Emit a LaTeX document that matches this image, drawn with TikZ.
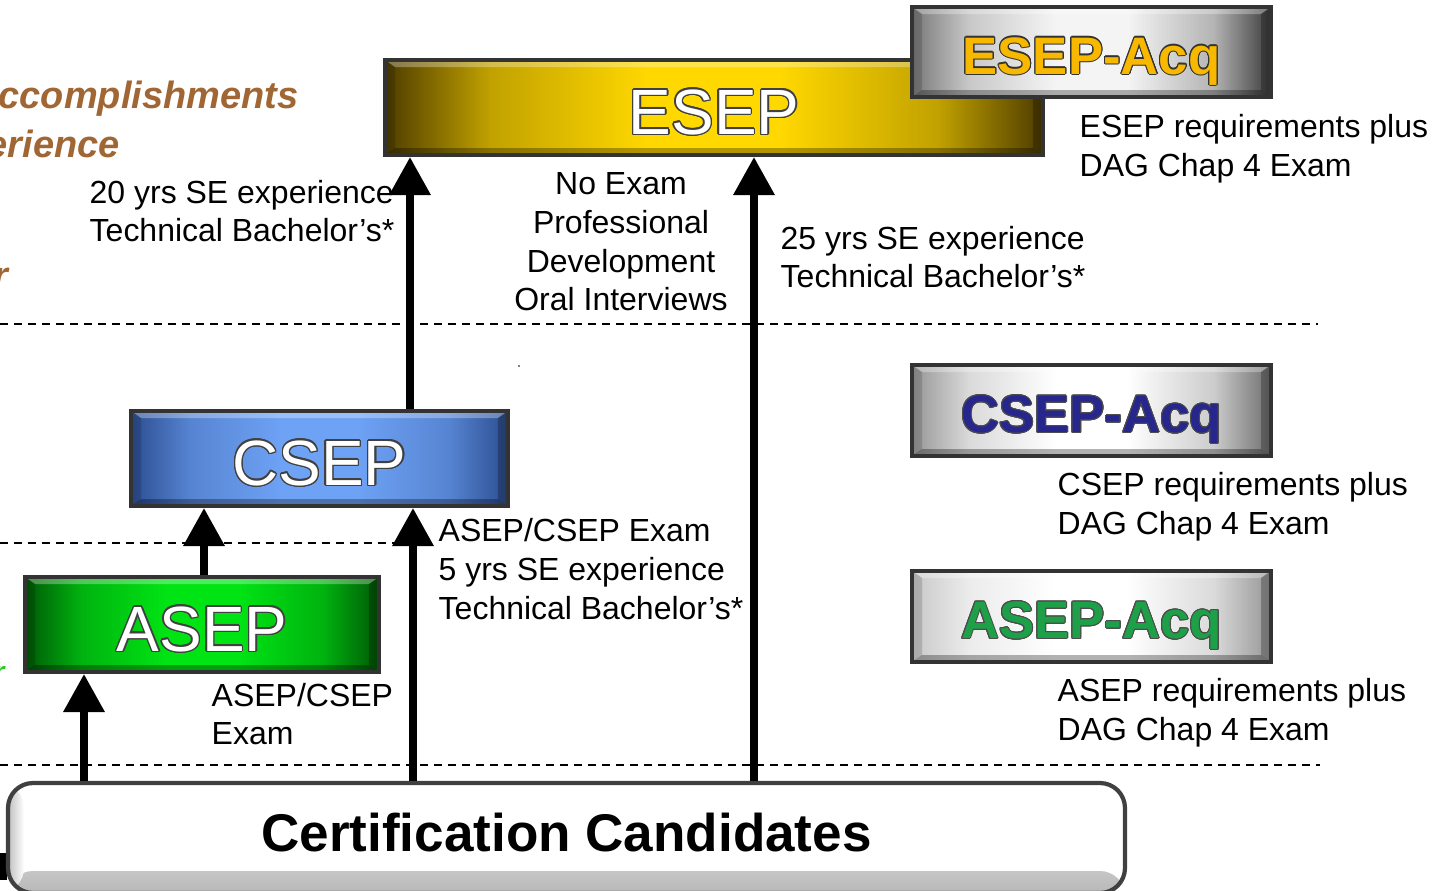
\documentclass[tikz,border=0pt]{standalone}
\usepackage{fontspec}
\setmainfont{Liberation Sans}
\usepackage[copies]{contour}
\usetikzlibrary{arrows.meta}
\contourlength{0.4pt}

\definecolor{goldD}{RGB}{78,60,0}
\definecolor{goldM}{RGB}{215,170,0}
\definecolor{goldL}{RGB}{255,216,0}
\definecolor{blueD}{RGB}{44,78,145}
\definecolor{blueM}{RGB}{80,125,205}
\definecolor{blueL}{RGB}{110,162,245}
\definecolor{grnD}{RGB}{0,88,6}
\definecolor{grnM}{RGB}{0,170,12}
\definecolor{grnL}{RGB}{0,228,20}
\definecolor{greyA}{RGB}{120,120,120}
\definecolor{greyB}{RGB}{60,60,60}
\definecolor{greyC}{RGB}{150,150,150}
\definecolor{greyE}{RGB}{200,200,200}
\definecolor{greyF}{RGB}{110,110,110}
\definecolor{greyL}{RGB}{244,244,244}
\definecolor{accbrown}{RGB}{160,102,52}
\definecolor{accgreen}{RGB}{40,200,40}
\definecolor{acqgold}{RGB}{248,184,0}
\definecolor{acqblue}{RGB}{38,38,140}
\definecolor{acqgreen}{RGB}{30,160,72}

% left edge -> centre -> right edge, with a flat bright middle
\pgfdeclarehorizontalshading[barA,barAm,barC,barBm,barB]{bevelbar}{100bp}{%
  color(0bp)=(barA); color(25bp)=(barA); color(33bp)=(barAm); color(45bp)=(barC);
  color(55bp)=(barC); color(67bp)=(barBm); color(75bp)=(barB); color(100bp)=(barB)}

\tikzset{
  bar/.style n args={3}{draw=black!80, line width=1.2pt, inner sep=0pt,
    /utils/exec={\colorlet{barA}{#1}\colorlet{barC}{#2}\colorlet{barB}{#3}%
      \colorlet{barAm}{barA!35!barC}\colorlet{barBm}{barB!35!barC}},
    shade, shading=bevelbar,
    path picture={ % bevelled edges
      \path (path picture bounding box.north west) coordinate (bnw)
            (path picture bounding box.north east) coordinate (bne)
            (path picture bounding box.south west) coordinate (bsw)
            (path picture bounding box.south east) coordinate (bse);
      \fill[white,opacity=.3] (bnw) -- (bne) -- ([shift={(-1mm,-.7mm)}]bne) -- ([shift={(1mm,-.7mm)}]bnw) -- cycle;
      \fill[black,opacity=.3] (bsw) -- (bse) -- ([shift={(-1mm,.7mm)}]bse) -- ([shift={(1mm,.7mm)}]bsw) -- cycle;
      \fill[black,opacity=.15] (bnw) -- ([shift={(1mm,-.7mm)}]bnw) -- ([shift={(1mm,.7mm)}]bsw) -- (bsw) -- cycle;
      \fill[black,opacity=.25] (bne) -- ([shift={(-1mm,-.7mm)}]bne) -- ([shift={(-1mm,.7mm)}]bse) -- (bse) -- cycle;
    }},
  level/.style={text=white, font=\fontsize{18.2}{20}\selectfont, text height=5.3mm, text depth=0pt},
  acq/.style={font=\fontsize{15}{17}\bfseries\selectfont, text height=4.4mm, text depth=0pt},
  note/.style={font=\fontsize{9.1}{11}\selectfont, align=left, anchor=west, inner sep=0pt},
  up/.style={line width=2pt, -{Triangle[width=4mm,length=3.8mm]}},
  sep/.style={dashed, dash pattern=on .8mm off .6mm, line width=.5pt},
  frag/.style={anchor=west, inner sep=0pt, text=accbrown, font=\fontsize{10.8}{12}\bfseries\itshape\selectfont},
}

\begin{document}
\begin{tikzpicture}[x=0.1mm,y=-0.1mm]
  \useasboundingbox (0,0) rectangle (1435,890);
  \clip (0,0) rectangle (1435,890);

  % level separators
  \foreach \y/\xend in {324/1318,543/400,765/1320}{
    \draw[sep] (0,\y) -- (\xend,\y);
  }

  % cut off titles on the left
  \node[frag] (ttl1) at (-2,99) {ccomplishments};
  \node[frag] (ttl2) at (-14,144) {erience};
  \node[frag] (ttl3) at (-7,278) {r};
  \node[frag, text=accgreen, font=\fontsize{8}{10}\bfseries\itshape\selectfont] (ttl4) at (-7,674) {r};
  \fill (0,853) rectangle (7,880);
  \fill (519,366) circle (0.9);

  % certification levels
  \node[bar={goldD}{goldL}{goldD}, minimum width=65.8mm, minimum height=9.5mm, level] (esep) at (714,107.5) {\contour{black!75}{ESEP}};
  \node[bar={greyA}{greyL}{greyB}, minimum width=35.9mm, minimum height=9mm, acq, text=acqgold] (esepacq) at (1091.5,52) {{\contourlength{0.3pt}\contour{black!80}{ESEP-Acq}}};
  \node[bar={blueD}{blueL}{blueD}, minimum width=37.7mm, minimum height=9.5mm, level] (csep) at (319.5,458.5) {\contour{black!75}{CSEP}};
  \node[bar={greyC}{white}{greyF}, minimum width=35.9mm, minimum height=9.1mm, acq, text=acqblue] (csepacq) at (1091.5,410.5) {{\contourlength{0.25pt}\contour{black!70}{CSEP-Acq}}};
  \node[bar={grnD}{grnL}{grnD}, minimum width=35.4mm, minimum height=9.5mm, level] (asep) at (202,624.5) {\contour{black!75}{ASEP}};
  \node[bar={greyE}{white}{greyC}, minimum width=35.9mm, minimum height=9.1mm, acq, text=acqgreen] (asepacq) at (1091.5,616.5) {{\contourlength{0.25pt}\contour{black!70}{ASEP-Acq}}};

  \node[draw=black!75, line width=1.2pt, rounded corners=2.5mm, fill=white,
        minimum width=111.7mm, minimum height=11mm, text depth=1.2mm,
        font=\fontsize{15.1}{17}\bfseries\selectfont,
        path picture={
          \shade[top color=white, bottom color=black!28] ([yshift=2.2mm]path picture bounding box.south west) rectangle (path picture bounding box.south east);
          \shade[left color=black!25, right color=white] (path picture bounding box.south west) rectangle ([xshift=1.6mm]path picture bounding box.north west);
        }] (cand) at (566.5,838) {Certification Candidates};

  % paths between levels
  \foreach \from/\to/\x in {cand/asep/84, asep/csep/204, cand/csep/413, csep/esep/410, cand/esep/754}{
    \coordinate (ax) at (\x,0);
    \draw[up] (ax |- \from.north) -- (ax |- \to.south);
  }

  % requirements
  \node[note] (req20) at (89,211) {20 yrs SE experience\\Technical Bachelor’s*};
  \node[note, align=center, anchor=center] (reqoral) at (621,242) {No Exam\\Professional\\Development\\Oral Interviews};
  \node[note] (req25) at (780,257) {25 yrs SE experience\\Technical Bachelor’s*};
  \node[note] (reqesepacq) at (1079,149) {ESEP requirements plus\\DAG Chap 4 Exam};
  \node[note] (reqcsep) at (438,569) {ASEP/CSEP Exam\\5 yrs SE experience\\Technical Bachelor’s*};
  \node[note] (reqcsepacq) at (1057,507) {CSEP requirements plus\\DAG Chap 4 Exam};
  \node[note] (reqasep) at (211,714) {ASEP/CSEP\\Exam};
  \node[note] (reqasepacq) at (1057,713) {ASEP requirements plus\\DAG Chap 4 Exam};
\end{tikzpicture}
\end{document}
